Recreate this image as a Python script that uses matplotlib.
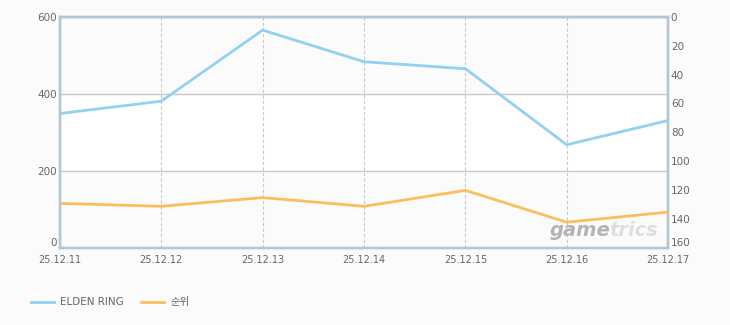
import matplotlib.pyplot as plt

plt.rcParams['font.family'] = ['DejaVu Sans', 'Noto Sans CJK KR']

dates = ['25.12.11', '25.12.12', '25.12.13', '25.12.14', '25.12.15', '25.12.16', '25.12.17']
elden_ring = [349, 381, 565, 483, 465, 268, 331]
rank = [129, 131, 125, 131, 120, 142, 135]

BLUE = '#91d1f2'
ORANGE = '#fbbd5e'
GRAY = '#666666'

fig = plt.figure(figsize=(7.3, 3.25), dpi=100, facecolor='#fbfbfb')
ax = fig.add_axes([0.0822, 0.236, 0.833, 0.713])
ax.set_facecolor('#ffffff')
ax.axhspan(0, 200, color='#fbfbfb', zorder=0)
ax.axhspan(400, 600, color='#fbfbfb', zorder=0)

x = list(range(len(dates)))
ax.plot(x, elden_ring, color=BLUE, lw=2, zorder=3, label='ELDEN RING')
ax.set_xlim(0, len(dates) - 1)
ax.set_ylim(0, 600)
ax.set_yticks([0, 200, 400, 600])
ax.set_xticks(x)
ax.set_xticklabels(dates)
ax.grid(axis='y', color='#c8c8c8', lw=1, ls='-')
ax.grid(axis='x', color='#c8c8c8', lw=0.8, ls=(0, (3, 2)))
ax.set_axisbelow(True)
ax.tick_params(axis='y', length=0, labelsize=7.5, colors=GRAY, pad=2)
ax.tick_params(axis='x', length=0, labelsize=7, colors=GRAY, pad=5)

ax2 = ax.twinx()
ax2.plot(x, rank, color=ORANGE, lw=2, zorder=3, label='순위')
ax2.set_ylim(160, 0)
ax2.set_yticks(range(0, 161, 20))
ax2.tick_params(length=0, labelsize=7.5, colors=GRAY, pad=2)

# nudge corner labels up so they clear the date labels
ax.get_yticklabels()[0].set_va('bottom')
ax2.get_yticklabels()[-1].set_va('bottom')

for a in (ax, ax2):
    for s in a.spines.values():
        s.set_color('#b3c5d7')
        s.set_linewidth(1.7)

fig.text(0.753, 0.275, 'game', fontsize=14, fontweight='bold', style='italic',
         color='#b4b4b4', ha='left', va='baseline')
fig.text(0.835, 0.275, 'trics', fontsize=14, fontweight='bold', style='italic',
         color='#dedede', ha='left', va='baseline')

h1, l1 = ax.get_legend_handles_labels()
h2, l2 = ax2.get_legend_handles_labels()
fig.legend(h1 + h2, l1 + l2, loc='center left', bbox_to_anchor=(0.03, 0.07),
           ncol=2, frameon=False, fontsize=7.5, labelcolor=GRAY,
           handlelength=2.2, handletextpad=0.6, columnspacing=1.6)

fig.savefig('out.png', dpi=100, facecolor=fig.get_facecolor())
